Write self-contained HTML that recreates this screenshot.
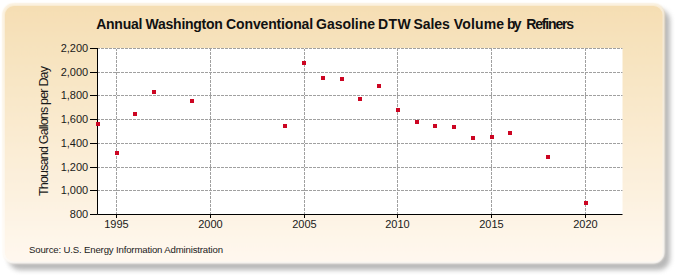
<!DOCTYPE html>
<html><head><meta charset="utf-8"><style>
html,body{margin:0;padding:0;background:#fff;}
body{width:675px;height:275px;overflow:hidden;position:relative;font-family:"Liberation Sans",sans-serif;}
svg{position:absolute;left:0;top:0;}
.g{stroke:#a0a0a0;stroke-width:1;stroke-dasharray:3 1;stroke-dashoffset:1;fill:none;}
.ax{stroke:#000;stroke-width:1;fill:none;}
.m{fill:#CC0522;}
.t{font-family:"Liberation Sans",sans-serif;font-size:11px;fill:#1a1a1a;}
.yl{font-family:"Liberation Sans",sans-serif;font-size:12.5px;fill:#1a1a1a;}
.ti{font-family:"Liberation Sans",sans-serif;font-size:14px;font-weight:bold;fill:#111;}
.s{font-family:"Liberation Sans",sans-serif;font-size:9.6px;fill:#1a1a1a;}
</style></head><body>
<svg width="675" height="275" viewBox="0 0 675 275">
<defs>
<linearGradient id="bg" x1="0" y1="0" x2="0" y2="1">
<stop offset="0" stop-color="#F5DEB3"/>
<stop offset="1" stop-color="#FFF8EF"/>
</linearGradient>
<filter id="sh" x="-5%" y="-10%" width="110%" height="120%">
<feGaussianBlur stdDeviation="2.5"/>
</filter>
<filter id="soft" x="-2%" y="-2%" width="104%" height="104%"><feGaussianBlur stdDeviation="1.1"/></filter>
</defs>
<rect x="8.5" y="9" width="661.5" height="261" rx="12" fill="#8c8c8c" opacity="0.62" filter="url(#sh)"/>
<rect x="3" y="4" width="661.5" height="259.5" rx="11" fill="url(#bg)" filter="url(#soft)"/>
<rect x="4" y="5" width="659.5" height="257.5" rx="10" fill="none" stroke="#fff" stroke-opacity="0.4" stroke-width="2"/>
<rect x="97.5" y="48" width="525.0" height="166.5" fill="#fff"/>
<text x="96.20" y="29" class="ti" textLength="46.15" lengthAdjust="spacing">Annual</text>
<text x="145.60" y="29" class="ti" textLength="77.25" lengthAdjust="spacing">Washington</text>
<text x="226.10" y="29" class="ti" textLength="87.05" lengthAdjust="spacing">Conventional</text>
<text x="316.10" y="29" class="ti" textLength="58.95" lengthAdjust="spacing">Gasoline</text>
<text x="378.05" y="29" class="ti" textLength="32.70" lengthAdjust="spacing">DTW</text>
<text x="413.50" y="29" class="ti" textLength="36.30" lengthAdjust="spacing">Sales</text>
<text x="453.80" y="29" class="ti" textLength="50.25" lengthAdjust="spacing">Volume</text>
<text x="507.10" y="29" class="ti" textLength="14.45" lengthAdjust="spacing">by</text>
<text x="526.30" y="29" class="ti" textLength="47.75" lengthAdjust="spacing">Refiners</text>
<text transform="translate(48.3,131) rotate(-90)" text-anchor="middle" class="yl" textLength="130" lengthAdjust="spacing">Thousand Gallons per Day</text>
<text x="29" y="253" class="s" textLength="194" lengthAdjust="spacing">Source: U.S. Energy Information Administration</text>
<line x1="98.0" y1="190.5" x2="622.5" y2="190.5" class="g"/>
<line x1="98.0" y1="167.5" x2="622.5" y2="167.5" class="g"/>
<line x1="98.0" y1="143.5" x2="622.5" y2="143.5" class="g"/>
<line x1="98.0" y1="119.5" x2="622.5" y2="119.5" class="g"/>
<line x1="98.0" y1="95.5" x2="622.5" y2="95.5" class="g"/>
<line x1="98.0" y1="72.5" x2="622.5" y2="72.5" class="g"/>
<line x1="98.0" y1="48.5" x2="622.5" y2="48.5" class="g"/>
<line x1="116.5" y1="49.0" x2="116.5" y2="214.0" class="g"/>
<line x1="210.5" y1="49.0" x2="210.5" y2="214.0" class="g"/>
<line x1="304.5" y1="49.0" x2="304.5" y2="214.0" class="g"/>
<line x1="397.5" y1="49.0" x2="397.5" y2="214.0" class="g"/>
<line x1="491.5" y1="49.0" x2="491.5" y2="214.0" class="g"/>
<line x1="585.5" y1="49.0" x2="585.5" y2="214.0" class="g"/>
<path d="M97.5 48.0 V214.5 H622.5" class="ax"/>
<line x1="90" y1="214.5" x2="97.5" y2="214.5" class="ax"/>
<text x="88.2" y="217.5" text-anchor="end" class="t">800</text>
<line x1="90" y1="190.5" x2="97.5" y2="190.5" class="ax"/>
<text x="88.2" y="193.5" text-anchor="end" class="t">1,000</text>
<line x1="90" y1="167.5" x2="97.5" y2="167.5" class="ax"/>
<text x="88.2" y="170.5" text-anchor="end" class="t">1,200</text>
<line x1="90" y1="143.5" x2="97.5" y2="143.5" class="ax"/>
<text x="88.2" y="146.5" text-anchor="end" class="t">1,400</text>
<line x1="90" y1="119.5" x2="97.5" y2="119.5" class="ax"/>
<text x="88.2" y="122.5" text-anchor="end" class="t">1,600</text>
<line x1="90" y1="95.5" x2="97.5" y2="95.5" class="ax"/>
<text x="88.2" y="98.5" text-anchor="end" class="t">1,800</text>
<line x1="90" y1="72.5" x2="97.5" y2="72.5" class="ax"/>
<text x="88.2" y="75.5" text-anchor="end" class="t">2,000</text>
<line x1="90" y1="48.5" x2="97.5" y2="48.5" class="ax"/>
<text x="88.2" y="51.5" text-anchor="end" class="t">2,200</text>
<line x1="116.5" y1="214.5" x2="116.5" y2="218.0" class="ax"/>
<text x="116.5" y="227.8" text-anchor="middle" class="t">1995</text>
<line x1="210.5" y1="214.5" x2="210.5" y2="218.0" class="ax"/>
<text x="210.5" y="227.8" text-anchor="middle" class="t">2000</text>
<line x1="304.5" y1="214.5" x2="304.5" y2="218.0" class="ax"/>
<text x="304.5" y="227.8" text-anchor="middle" class="t">2005</text>
<line x1="397.5" y1="214.5" x2="397.5" y2="218.0" class="ax"/>
<text x="397.5" y="227.8" text-anchor="middle" class="t">2010</text>
<line x1="491.5" y1="214.5" x2="491.5" y2="218.0" class="ax"/>
<text x="491.5" y="227.8" text-anchor="middle" class="t">2015</text>
<line x1="585.5" y1="214.5" x2="585.5" y2="218.0" class="ax"/>
<text x="585.5" y="227.8" text-anchor="middle" class="t">2020</text>
<rect x="96" y="122" width="4" height="4" class="m"/>
<rect x="115" y="151" width="4" height="4" class="m"/>
<rect x="133" y="112" width="4" height="4" class="m"/>
<rect x="152" y="90" width="4" height="4" class="m"/>
<rect x="190" y="99" width="4" height="4" class="m"/>
<rect x="283" y="124" width="4" height="4" class="m"/>
<rect x="302" y="61" width="4" height="4" class="m"/>
<rect x="321" y="76" width="4" height="4" class="m"/>
<rect x="340" y="77" width="4" height="4" class="m"/>
<rect x="358" y="97" width="4" height="4" class="m"/>
<rect x="377" y="84" width="4" height="4" class="m"/>
<rect x="396" y="108" width="4" height="4" class="m"/>
<rect x="415" y="120" width="4" height="4" class="m"/>
<rect x="433" y="124" width="4" height="4" class="m"/>
<rect x="452" y="125" width="4" height="4" class="m"/>
<rect x="471" y="136" width="4" height="4" class="m"/>
<rect x="490" y="135" width="4" height="4" class="m"/>
<rect x="508" y="131" width="4" height="4" class="m"/>
<rect x="546" y="155" width="4" height="4" class="m"/>
<rect x="584" y="201" width="4" height="4" class="m"/>
</svg>
</body></html>
